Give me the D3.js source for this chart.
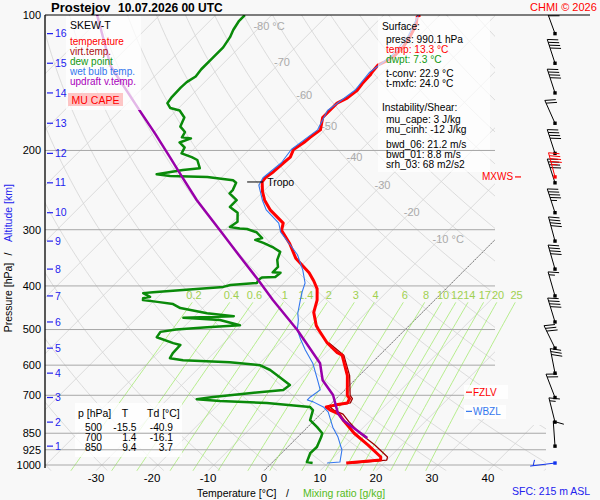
<!DOCTYPE html>
<html><head><meta charset="utf-8">
<script src="https://cdn.jsdelivr.net/npm/d3@7/dist/d3.min.js"></script>
<style>
html,body{margin:0;padding:0;background:#f8f8f8;}
svg{display:block;font-family:"Liberation Sans",Arial,Helvetica,sans-serif;}
</style></head><body>
<svg id="chart" width="600" height="500"></svg>
<script>
// ---------------- data ----------------
const tempP=[100,101,105,112,118,123,127,129,134,136,142,147,153,157,163,169,180,187,192,199,207,213,223,230,235,247,258,271,290,301,322,347,374,390,406,430,458,490,500,535,563,570,633,700,712,728,736,743,755,771,800,850,903,960,975,990];
const tempT=[-53.5,-53.7,-52.5,-51.4,-50.8,-50.8,-51.4,-52.1,-51.9,-51.7,-51.6,-51.3,-51.7,-52.6,-52.6,-52.6,-50.8,-51.3,-51.5,-52.1,-51.3,-51.5,-51.7,-52.1,-51.9,-50.1,-48.2,-45.5,-40.8,-39.8,-36.0,-32.3,-27.3,-25.0,-23.0,-21.0,-19.4,-16.6,-15.5,-11.6,-8.0,-6.7,-2.1,1.4,2.4,2.8,0.9,-0.3,1.0,3.3,5.5,9.4,14.0,18.4,18.9,13.3];

const tvP=[535,570,633,700,712,728,736,743,755,771,800,850,903,960,975,990];
const tvT=[-11.3,-6.4,-1.7,1.9,2.9,3.3,1.5,0.4,1.6,4.0,6.3,10.4,15.2,19.6,20.0,14.5];

const dewP=[100,103,108,112,118,125,132,137,141,145,152,157,161,163,169,177,182,187,188,192,197,203,207,210,219,221,226,228,229,233,236,245,249,258,267,275,288,296,298,299,304,313,316,321,329,336,350,363,373,374,382,383,388,394,398,402,409,413,415,423,426,430,434,439,448,460,467,471,476,489,494,500,506,520,536,541,564,579,585,591,600,615,638,664,681,692,706,714,721,728,743,755,795,824,850,867,912,941,985,990];
const dewT=[-84.8,-84.8,-84.2,-83.5,-82.9,-82.9,-82.9,-82.6,-83.2,-83.3,-83.2,-82.9,-81.5,-79.4,-77.3,-76.4,-74.6,-74.2,-72.4,-73.7,-71.9,-71.4,-68.9,-67.4,-65.5,-68.2,-72.1,-69.4,-62.6,-57.4,-56.4,-55.7,-55.7,-53.2,-53.2,-50.8,-49.2,-49.6,-47.6,-46.2,-43.9,-41.9,-42.8,-40.8,-38.1,-36.2,-35.3,-33.9,-33.9,-32.4,-32.6,-34.9,-35.1,-34.8,-39.2,-40.1,-47.3,-51.7,-53.3,-51.4,-52.4,-52.1,-49.2,-46.0,-44.0,-38.3,-33.0,-41.7,-34.8,-30.3,-35.8,-40.9,-43.3,-43.0,-39.0,-37.4,-37.3,-36.9,-34.2,-25.5,-19.6,-16.9,-13.9,-10.7,-11.0,-16.1,-22.3,-24.8,-20.3,-11.6,-3.2,-2.1,-0.8,1.7,3.7,4.2,5.2,5.1,6.1,7.3];

const wbP=[100,112,123,134,147,163,180,199,213,230,239,258,271,290,304,324,341,369,394,413,430,460,476,501,526,555,594,648,681,706,717,724,743,763,824,867,926,985,990];
const wbT=[-53.8,-51.8,-51.3,-52.3,-51.7,-53.0,-51.3,-52.5,-51.9,-52.5,-51.9,-48.6,-46.2,-41.6,-39.6,-35.7,-32.6,-28.9,-26.2,-25.1,-24.0,-22.1,-20.8,-19.2,-16.9,-14.2,-10.5,-6.6,-4.4,-4.9,-4.9,-3.5,-0.8,1.0,4.5,7.2,10.2,12.0,9.9];

const parP=[100,130,164,183,207,229,258,301,345,388,430,501,594,648,699,767,795,871];
const parT=[-111.2,-99.6,-86.2,-79.8,-72.8,-67.1,-60.3,-50.8,-42.4,-35.1,-28.9,-19.2,-9.2,-5.7,-1.2,2.9,5.1,12.6];

const isobars=[100,200,300,400,500,600,700,850,925,1000];
const tempTicks=[-30,-20,-10,0,10,20,30,40];
const isoLabelT=[-80,-70,-60,-50,-40,-30,-20,-10];
const isoLabelP=[106,127,151,177,207,239,274,315];
const mixRatios=[0.2,0.4,0.6,1,1.4,2,3,4,6,8,10,12,14,17,20,25];

const kmLevels=[1,2,3,4,5,6,7,8,9,10,11,12,13,14,15,16];
const kmP=[908,803,708,625,550,481,421,367,318,275,236,203,174,149,128,110];
const windDir=[356,346,339,349,334,343,344,344,345,342,342,342,336,342,342,340];
const windSpd=[10,15,20,30,30,40,15,40,40,45,40,40,20,40,40,30];
const sfcP=990, sfcDir=263, sfcSpd=3;
const mxwsP=229, mxwsDir=345, mxwsSpd=45;
const tropoP=235, fzlvP=689, wbzlP=760;

const surfaceLines=[["Surface:","#000",0],["press: 990.1 hPa","#000",1],["temp: 13.3 °C","#ff0000",1],["dwpt: 7.3 °C","#119911",1],["t-conv: 22.9 °C","#000",1],["t-mxfc: 24.0 °C","#000",1]];
const shearLines=[["Instability/Shear:",0],["mu_cape: 3 J/kg",1],["mu_cinh: -12 J/kg",1],["bwd_06: 21.2 m/s",1],["bwd_01: 8.8 m/s",1],["srh_03: 68 m2/s2",1]];
const legendItems=[["temperature","#ff0000"],["virt.temp.","#aa1111"],["dew point","#119911"],["wet bulb temp.","#3377ee"],["updraft v.temp.","#aa00bb"]];
const tabP=[500,700,850], tabT=[-15.5,1.4,9.4], tabTd=[-40.9,-16.1,3.7];

// ---------------- scales ----------------
const svg=d3.select('#chart');
const yP=d3.scaleLog().domain([100,1000]).range([15,465]);
const xT=d3.scaleLinear().domain([0,10]).range([264,320]);
const P_BOT=1030, yBot=yP(P_BOT);
const X=(T,p)=>xT(T)+(yBot-yP(p));
const L=45, R=495, R2=546, TOP=15;
const line=d3.line().x(d=>X(d[1],d[0])).y(d=>yP(d[0]));
const zip=(P,T)=>P.map((p,i)=>[p,T[i]]);

svg.append('rect').attr('width',600).attr('height',500).attr('fill','#f8f8f8');
const defs=svg.append('defs');
defs.append('clipPath').attr('id','gridClip').append('polygon')
  .attr('points',[[L,TOP],[R,TOP],[R,425],[R2,425],[R2,yBot],[L,yBot]].map(d=>d.join(',')).join(' '));
defs.append('clipPath').attr('id','plotClip').append('rect')
  .attr('x',L).attr('y',TOP).attr('width',R2-L).attr('height',yBot-TOP);
defs.append('clipPath').attr('id','barbClip').append('rect')
  .attr('x',500).attr('y',TOP).attr('width',100).attr('height',480);

// ---------------- grid ----------------
const grid=svg.append('g').attr('clip-path','url(#gridClip)').attr('fill','none');
const pGrid=d3.range(0,81).map(i=>100*Math.pow(P_BOT/100,i/80));
d3.range(-140,60,10).forEach(T=>{
  grid.append('path').attr('d',line([[100,T],[P_BOT,T]])).attr('stroke','#d4d4d4').attr('stroke-width',0.8);
});
d3.range(-50,260,10).forEach(th=>{
  const pts=pGrid.map(p=>[p,(th+273.15)*Math.pow(p/1000,0.2857)-273.15]);
  grid.append('path').attr('d',line(pts)).attr('stroke','#d4d4d4').attr('stroke-width',0.8);
});
// mixing ratio lines
const mixTd=(p,w)=>{const e=w*p/(622+w);const l=Math.log(e/6.112);return 243.5*l/(17.67-l);};
const mixG=svg.append('g').attr('fill','none');
const pMix=d3.range(0,41).map(i=>435*Math.pow(P_BOT/435,i/40));
mixRatios.forEach(w=>{
  mixG.append('path').attr('d',line(pMix.map(p=>[p,mixTd(p,w)]))).attr('stroke','#a6ea72').attr('stroke-width',0.8);
  mixG.append('text').attr('x',X(mixTd(430,w),430)).attr('y',yP(430)-1).attr('text-anchor','middle')
    .attr('font-size',11).attr('fill','#a0d050').text(w);
});
// 0 degC isotherm
grid.append('path').attr('d',line([[100,0],[P_BOT,0]])).attr('stroke','#555').attr('stroke-width',0.8).attr('stroke-dasharray','1.5,1');
// isotherm labels
isoLabelT.forEach((T,i)=>{
  const p=isoLabelP[i];
  svg.append('text').attr('x',X(T,p)-7).attr('y',yP(p)).attr('dy','0.35em').attr('font-size',11).attr('fill','#aaa')
    .text(T+((T===-80||T===-10)?' °C':''));
});
// isobars
isobars.forEach(p=>{
  if(p===100) return;
  svg.append('line').attr('x1',L).attr('x2',p>=850?R2:R).attr('y1',yP(p)).attr('y2',yP(p))
    .attr('stroke','#a8a8a8').attr('stroke-width',1);
});

// ---------------- profiles ----------------
const prof=svg.append('g').attr('clip-path','url(#plotClip)').attr('fill','none').attr('stroke-linejoin','round');
prof.append('path').attr('d',line(zip(tvP,tvT))).attr('stroke','#990000').attr('stroke-width',1.3);
prof.append('path').attr('d',line(zip(tempP,tempT))).attr('stroke','#ff0000').attr('stroke-width',3);
prof.append('path').attr('d',line(zip(dewP,dewT))).attr('stroke','#0a8a0a').attr('stroke-width',2.5);
prof.append('path').attr('d',line(zip(wbP,wbT))).attr('stroke','#3377ee').attr('stroke-width',1.1);
prof.append('path').attr('d',line(zip(parP,parT))).attr('stroke','#9900aa').attr('stroke-width',2.5);

// tropopause marker
const tropoT=d3.scaleLinear().domain(tempP).range(tempT)(tropoP);
const tx0=X(tropoT,tropoP);
svg.append('line').attr('x1',tx0-15).attr('x2',tx0+1).attr('y1',yP(tropoP)).attr('y2',yP(tropoP)).attr('stroke','#000');
svg.append('text').attr('x',tx0+5).attr('y',yP(tropoP)).attr('dy','0.35em').attr('font-size',10.5).text('Tropo');

// ---------------- boxes ----------------
const box=(x,y,w,h,fill,op)=>svg.append('rect').attr('x',x).attr('y',y).attr('width',w).attr('height',h).attr('fill',fill).attr('opacity',op);
box(66,16,75,94,'#ffffff',0.72);
box(378,17,112,155,'#ffffff',0.68);
box(75,403,107,54,'#ffffff',0.8);
box(464,385,44,14,'#ffffff',0.85);
box(464,405,42,14,'#ffffff',0.85);
box(68,93,55,13,'#ff9999',0.55);
const isoTop=svg.append('g');
[[200,378,490],[850,75,182],[925,75,182]].forEach(d=>{
  isoTop.append('line').attr('x1',d[1]).attr('x2',d[2]).attr('y1',yP(d[0])).attr('y2',yP(d[0])).attr('stroke','#a8a8a8');
});

// ---------------- frame & axes ----------------
svg.append('line').attr('x1',L).attr('x2',590).attr('y1',TOP).attr('y2',TOP).attr('stroke','#000').attr('stroke-width',1.2);
svg.append('line').attr('x1',L).attr('x2',L).attr('y1',TOP).attr('y2',468).attr('stroke','#000').attr('stroke-width',1.3);
isobars.forEach(p=>{
  svg.append('text').attr('x',41).attr('y',yP(p)).attr('dy','0.35em').attr('text-anchor','end').attr('font-size',11).text(p);
});
tempTicks.forEach(t=>{
  svg.append('text').attr('x',xT(t)).attr('y',478).attr('dy','0.35em').attr('text-anchor','middle').attr('font-size',11.5).text(t);
});
kmLevels.forEach((k,i)=>{
  const yy=yP(kmP[i]);
  svg.append('line').attr('x1',47).attr('x2',53).attr('y1',yy).attr('y2',yy).attr('stroke','#2222ee').attr('stroke-width',1.2);
  svg.append('text').attr('x',55).attr('y',yy).attr('dy','0.35em').attr('font-size',10.5).attr('fill','#2222ee').text(k);
});
svg.append('text').attr('x',197).attr('y',493).attr('dy','0.35em').attr('font-size',10.5).text('Temperature [°C]');
svg.append('text').attr('x',286).attr('y',493).attr('dy','0.35em').attr('font-size',10.5).text('/');
svg.append('text').attr('x',303).attr('y',493).attr('dy','0.35em').attr('font-size',10.5).attr('fill','#55bb22').text('Mixing ratio [g/kg]');
const rot=(cy,txt,col)=>svg.append('text').attr('transform',`translate(12,${cy}) rotate(-90)`).attr('text-anchor','middle').attr('font-size',10.5).attr('fill',col).text(txt);
rot(297.5,'Pressure [hPa]','#000');
rot(254,'/','#000');
rot(213,'Altitude [km]','#2222ee');

// title
svg.append('text').attr('x',51).attr('y',12).attr('font-size',13).attr('font-weight','bold').text('Prostejov');
svg.append('text').attr('x',118).attr('y',12).attr('font-size',12).attr('font-weight','bold').text('10.07.2026 00 UTC');
svg.append('text').attr('x',530).attr('y',11).attr('font-size',11).attr('fill','#ff0000').text('CHMI © 2026');
svg.append('text').attr('x',512).attr('y',491).attr('dy','0.35em').attr('font-size',10.5).attr('fill','#2222ee').text('SFC: 215 m ASL');

// legend
svg.append('text').attr('x',70).attr('y',25).attr('dy','0.35em').attr('font-size',10.5).text('SKEW-T');
legendItems.forEach((d,i)=>{
  svg.append('text').attr('x',70).attr('y',42+i*10).attr('dy','0.33em').attr('font-size',10).attr('fill',d[1]).text(d[0]);
});
svg.append('text').attr('x',95.5).attr('y',100).attr('dy','0.35em').attr('text-anchor','middle').attr('font-size',10.5).attr('fill','#ff0000').text('MU CAPE');

// surface info
let yy=27;
surfaceLines.forEach((d,i)=>{
  if(i===4) yy+=4;
  svg.append('text').attr('x',d[2]?386:382).attr('y',yy).attr('dy','0.33em').attr('font-size',10.2).attr('fill',d[1]).text(d[0]);
  yy+= (i===0?13:10);
});
yy=108;
shearLines.forEach((d,i)=>{
  if(i===3) yy+=5;
  svg.append('text').attr('x',d[1]?386:382).attr('y',yy).attr('dy','0.33em').attr('font-size',10.2).text(d[0]);
  yy+=(i===0?12:10);
});

// table
svg.append('text').attr('x',78).attr('y',413).attr('dy','0.35em').attr('font-size',10.5).text('p [hPa]');
svg.append('text').attr('x',125).attr('y',413).attr('dy','0.35em').attr('font-size',10.5).attr('text-anchor','middle').text('T');
svg.append('text').attr('x',147).attr('y',413).attr('dy','0.35em').attr('font-size',10.5).text('Td [°C]');
tabP.forEach((p,i)=>{
  const ty=428+i*10;
  svg.append('text').attr('x',102).attr('y',ty).attr('dy','0.33em').attr('font-size',10.2).attr('text-anchor','end').text(p);
  svg.append('text').attr('x',136.5).attr('y',ty).attr('dy','0.33em').attr('font-size',10.2).attr('text-anchor','end').text(tabT[i].toFixed(1));
  svg.append('text').attr('x',173).attr('y',ty).attr('dy','0.33em').attr('font-size',10.2).attr('text-anchor','end').text(tabTd[i].toFixed(1));
});

// level markers
const mk=(p,label,col,left)=>{
  const yv=yP(p);
  if(left){
    svg.append('text').attr('x',482).attr('y',yv).attr('dy','0.35em').attr('font-size',10).attr('fill',col).text(label);
    svg.append('line').attr('x1',515).attr('x2',521).attr('y1',yv).attr('y2',yv).attr('stroke',col).attr('stroke-width',1.2);
  } else {
    svg.append('line').attr('x1',466).attr('x2',472).attr('y1',yv).attr('y2',yv).attr('stroke',col).attr('stroke-width',1.2);
    svg.append('text').attr('x',473).attr('y',yv).attr('dy','0.35em').attr('font-size',10).attr('fill',col).text(label);
  }
};
mk(mxwsP,'MXWS','#ff0000',true);
mk(fzlvP,'FZLV','#ff0000',false);
mk(wbzlP,'WBZL','#3377ee',false);

// ---------------- wind barbs ----------------
const stX=555;
const barbs=svg.append('g').attr('clip-path','url(#barbClip)');
function drawBarb(p,dir,spd,color){
  const x0=stX, y0=yP(p), len=25;
  const a=dir*Math.PI/180, ux=Math.sin(a), uy=-Math.cos(a);
  const tx=x0+ux*len, ty=y0+uy*len;
  barbs.append('line').attr('x1',x0).attr('y1',y0).attr('x2',tx).attr('y2',ty).attr('stroke',color).attr('stroke-width',1);
  const fa=(dir+110)*Math.PI/180, fx=Math.sin(fa), fy=-Math.cos(fa);
  const at=d=>[tx-ux*d,ty-uy*d];
  let s=Math.round(spd/5)*5, pos=0;
  while(s>=50){const a0=at(pos),a1=at(pos+4);
    barbs.append('polygon').attr('points',[a0,[a0[0]+fx*10,a0[1]+fy*10],a1].map(d=>d.join(',')).join(' ')).attr('fill',color);
    pos+=5; s-=50;}
  while(s>=10){const a0=at(pos);
    barbs.append('line').attr('x1',a0[0]).attr('y1',a0[1]).attr('x2',a0[0]+fx*11).attr('y2',a0[1]+fy*11).attr('stroke',color);
    pos+=3; s-=10;}
  if(s>=5){ if(pos===0) pos=3; const a0=at(pos);
    barbs.append('line').attr('x1',a0[0]).attr('y1',a0[1]).attr('x2',a0[0]+fx*6).attr('y2',a0[1]+fy*6).attr('stroke',color);}
  barbs.append('rect').attr('x',x0-1.7).attr('y',y0-1.7).attr('width',3.4).attr('height',3.4).attr('fill',color);
}
kmP.forEach((p,i)=>drawBarb(p,windDir[i],windSpd[i],'#000'));
drawBarb(mxwsP,mxwsDir,mxwsSpd,'#ff0000');
drawBarb(sfcP,sfcDir,sfcSpd,'#1133ee');
</script></body></html>
